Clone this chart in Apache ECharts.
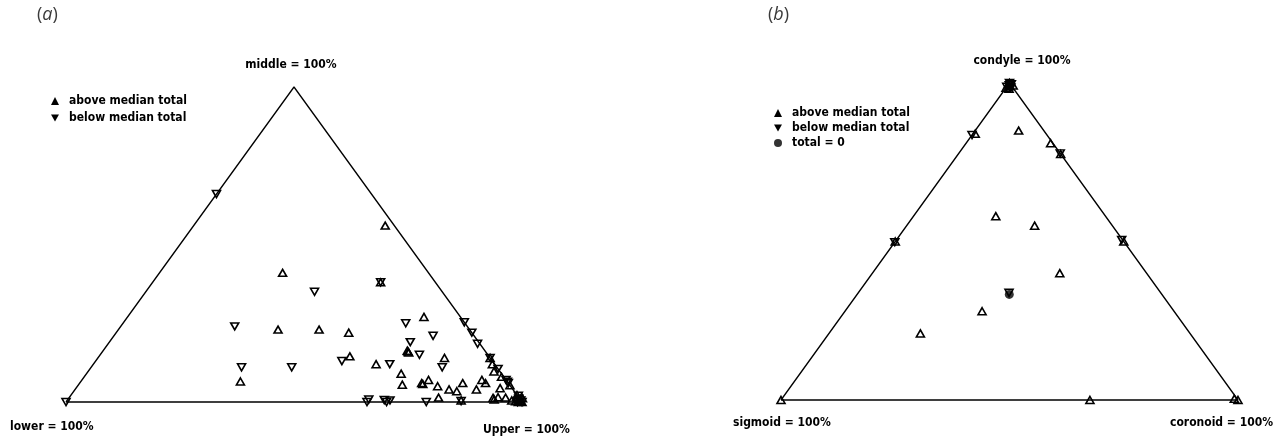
<!DOCTYPE html>
<html>
<head>
<meta charset="utf-8">
<script src="https://cdn.jsdelivr.net/npm/echarts@6/dist/echarts.min.js"></script>
<style>
  html, body { margin: 0; padding: 0; background: #fff; }
  #main { width: 1278px; height: 438px; }
</style>
</head>
<body>
<div id="main"></div>
<script>
// ternary points, as [upper %, middle %] (lower = rest)
var aboveA = [[42,56],[27,41],[50,38],[35,23],[44,23],[51,22],[65,27],[67,16],[67.3,15.7],[66.7,16.3],
  [55,14.5],[62,12],[76,14],[35,6.5],[69,9],[71,5.5],[75,6],[75.4,5.7],[76,7],[79,5],[82,4],[84,3.4],
  [84,6],[88,4],[87.7,7],[89,6],[86,14],[87.5,12],[89,9.7],[91.5,8],[93,4.4],[94.7,5.3],[81,1.4],
  [86.4,0.5],[93,1.3],[94,1.5],[93.5,0.8],[95.7,1.4],[97.8,2.2],[99.5,0.3],[99,0.8],[98.5,0.2],[100,0],[99.2,0],
  [98,1.5],[99.5,1.2],[97.5,0.5]]
var belowA = [[0,66],[0,0],[37,35],[50,38],[25,24],[33,11],[44,11],[54,13],[65,12],[62,25],[66,19],[70,21],
  [70,15],[77,11],[74.7,25.3],[78,22],[81,18.5],[66,0],[66,0.8],[69.5,0.6],[70.8,0.5],[70.3,0],[79,0],
  [86.5,0.3],[89.5,10.5],[86,14],[93,7],[93.6,6.4],[94,6],[99.5,0.5],[100,0],[99,0],[98.8,1],[98.2,2]]
// panel b as [coronoid %, condyle %] (sigmoid = rest)
var aboveB = [[0,0],[9.5,85],[0.5,84],[18.5,81],[22.4,77.6],[18,58],[28,55],[50,50],[41,40],[30,28],
  [20,21],[0,50],[67.6,0],[100,0],[99,0.4],[0,100],[0.5,99],[0,99.5],[0.8,98.2],[0,98.5],[1.2,99.2]]
var belowB = [[0,83.6],[22.2,77.8],[49.3,50.5],[0,49.8],[33,33.8],[0,100],[0.3,99.3],[0.6,99.6],[0,98.8],[1,98.6]]
var zeroB = [[33.3,33.3]]
var corners = [[0,0],[0,100],[100,0],[0,0]]

var myChart = echarts.init(document.getElementById('main'))
var fontFam = "'Liberation Sans Narrow', 'DejaVu Sans Condensed', sans-serif"
var labelFont = "bold 12px " + fontFam

function toXY(p) {
    return [p[0] + p[1] / 2, p[1]]
}

function frame(i) {
    return {
        type: 'line', xAxisIndex: i, yAxisIndex: i, data: corners.map(toXY),
        symbol: 'none', silent: true, clip: false,
        lineStyle: { color: '#000', width: 1.3 }
    }
}

function pts(name, data, i, down) {
    return {
        name: name, type: 'scatter', xAxisIndex: i, yAxisIndex: i, clip: false,
        data: data.map(toXY), symbol: 'triangle', symbolSize: [8, 7],
        symbolRotate: down ? 180 : 0,
        itemStyle: { color: 'rgba(255,255,255,0)', borderColor: '#000', borderWidth: 1.6, opacity: 1 }
    }
}

function txt(s, x, y, align) {
    return { type: 'text', x: x, y: y, style: { text: s, font: labelFont, fill: '#000', textAlign: align || 'left', textVerticalAlign: 'middle' } }
}

function panelTitle(ch, x) {
    return {
        type: 'text', x: x, y: 6,
        style: {
            text: '{n|(}{i|' + ch + '}{n|)}', fill: '#444',
            rich: {
                n: { font: "18px 'Open Sans', sans-serif", fill: '#3a3a3a' },
                i: { font: "italic 18px 'Open Sans', sans-serif", fill: '#3a3a3a' }
            }
        }
    }
}

var legendText = { fontFamily: fontFam, fontWeight: 'bold', fontSize: 12, color: '#000', padding: [0, 0, 0, 5] }
var upIcon = { name: 'above median total', icon: 'triangle', itemStyle: { color: '#000', borderWidth: 0 } }
var downIcon = { name: 'below median total', icon: 'path://M0,0L10,0L5,9Z', itemStyle: { color: '#000', borderWidth: 0 } }

var option = {
    animation: false,
    grid: [
        { left: 66, top: 87, width: 456, height: 315 },
        { left: 781, top: 83, width: 457, height: 317 }
    ],
    xAxis: [
        { gridIndex: 0, type: 'value', min: 0, max: 100, show: false },
        { gridIndex: 1, type: 'value', min: 0, max: 100, show: false }
    ],
    yAxis: [
        { gridIndex: 0, type: 'value', min: 0, max: 100, show: false },
        { gridIndex: 1, type: 'value', min: 0, max: 100, show: false }
    ],
    legend: [
        { left: 51, top: 95, padding: 0, orient: 'vertical', itemWidth: 8, itemHeight: 8, itemGap: 5, textStyle: legendText,
          selectedMode: false, data: [upIcon, downIcon] },
        { left: 774, top: 107, padding: 0, orient: 'vertical', itemWidth: 8, itemHeight: 8, itemGap: 3, textStyle: legendText,
          selectedMode: false,
          data: [upIcon, downIcon, { name: 'total = 0', icon: 'circle', itemStyle: { color: '#000' } }] }
    ],
    series: [
        frame(0),
        pts('above median total', aboveA, 0, false),
        pts('below median total', belowA, 0, true),
        frame(1),
        pts('above median total', aboveB, 1, false),
        pts('below median total', belowB, 1, true),
        {
            name: 'total = 0', type: 'scatter', xAxisIndex: 1, yAxisIndex: 1, clip: false,
            data: zeroB.map(toXY), symbol: 'circle', symbolSize: 9, itemStyle: { color: '#000' }
        }
    ],
    graphic: [
        panelTitle('a', 37),
        txt('middle = 100%', 291, 65, 'center'),
        txt('lower = 100%', 10, 427),
        txt('Upper = 100%', 483, 430),
        panelTitle('b', 768),
        txt('condyle = 100%', 1022, 61, 'center'),
        txt('sigmoid = 100%', 733, 423),
        txt('coronoid = 100%', 1170, 423)
    ]
}

myChart.setOption(option)
</script>
</body>
</html>
